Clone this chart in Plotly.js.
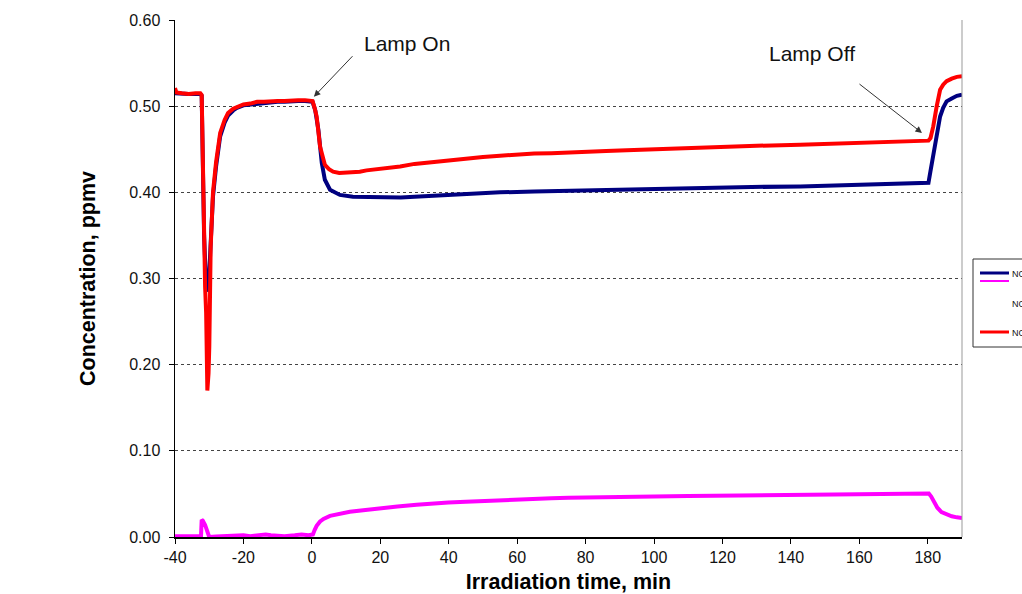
<!DOCTYPE html>
<html>
<head>
<meta charset="utf-8">
<script src="https://cdn.plot.ly/plotly-3.0.1.min.js"></script>
<style>html,body{margin:0;padding:0;background:#fff;}#chart{width:1022px;height:594px;}</style>
</head>
<body>
<div id="chart"></div>
<script>
// ---- data ----
var noxTime = [-40,-39.6,-38,-36,-34,-32.6,-32.2,-31.9,-31.6,-31.2,-30.9,-30.55,-30.2,-29.98,-29.57,-29.2,-28.9,-28,-26.8,-25.5,-24.5,-23,-21.9,-20,-18,-16,-14,-12,-10,-8,-6,-4,-2,-0.5,0.2,0.8,1.4,2.4,3.2,3.8,5,6.2,8,11,14,16,20,25.8,30,35,40.4,45,50,55,60,65,70,74.5,80,86,92,100,106,113.4,120,130,142.7,150,160,171.9,176,180.2,180.8,181.6,182.6,183.6,184.5,185.5,187,188.5,190];
var noxConc = [0.521,0.516,0.515,0.514,0.515,0.515,0.513,0.42,0.33,0.29,0.26,0.17,0.19,0.221,0.337,0.375,0.40,0.435,0.469,0.484,0.492,0.497,0.499,0.502,0.503,0.505,0.505,0.506,0.506,0.506,0.507,0.507,0.507,0.507,0.506,0.498,0.488,0.453,0.440,0.432,0.427,0.424,0.4225,0.423,0.424,0.4255,0.427,0.430,0.433,0.435,0.438,0.440,0.441,0.4425,0.444,0.445,0.4455,0.4464,0.447,0.448,0.4487,0.450,0.451,0.452,0.453,0.454,0.4553,0.456,0.457,0.4584,0.459,0.460,0.463,0.4765,0.4998,0.519,0.525,0.529,0.532,0.534,0.5346];

var noTime = [-40,-38,-36,-34,-32.6,-32.2,-31.9,-31.5,-31,-30.6,-30.2,-29.9,-29.57,-29.2,-28.9,-28,-26.8,-25.5,-24.5,-23,-21.9,-20,-18,-16,-14,-12,-10,-8,-6,-4,-2,-0.5,0.2,1,1.9,2.9,3.8,5.3,8.2,12,16,20,23,26,30,35,38,45,55,65,75,85,92,100,113.4,125,142.7,155,165,171.9,177,180.2,180.8,181.6,182.6,183.6,184.5,185.5,187,188.5,190];
var noConc = [0.515,0.514,0.514,0.514,0.514,0.512,0.43,0.35,0.30,0.285,0.29,0.31,0.337,0.37,0.395,0.43,0.465,0.481,0.489,0.495,0.498,0.501,0.502,0.503,0.504,0.505,0.505,0.505,0.506,0.506,0.506,0.506,0.505,0.495,0.4727,0.434,0.4146,0.403,0.397,0.395,0.3945,0.394,0.3934,0.394,0.395,0.396,0.397,0.398,0.400,0.401,0.402,0.403,0.4038,0.404,0.405,0.406,0.4069,0.408,0.409,0.410,0.4105,0.411,0.425,0.445,0.470,0.488,0.498,0.5056,0.509,0.512,0.5134];

var no2Time = [-40,-36,-34,-32.4,-32.2,-31.9,-31.2,-30.6,-30.3,-30,-28,-25,-22,-20,-18,-15,-13.5,-12,-8,-5,-3,-1,0.3,0.8,1.4,2.4,3.4,5.3,8,11.1,15,19.9,25,30.6,35,39.9,45,50,55,60,65,70,75,80,90,100,110,120,130,140,150,160,170,175,180.3,181,181.8,182.8,184,185.5,187,188.5,190];
var no2Conc = [0.001,0.001,0.001,0.001,0.020,0.019,0.014,0.008,0.004,0.000,0.0005,0.001,0.0015,0.002,0.001,0.002,0.003,0.002,0.001,0.002,0.003,0.002,0.003,0.008,0.013,0.018,0.021,0.0245,0.027,0.0294,0.031,0.0335,0.0355,0.0375,0.039,0.040,0.041,0.042,0.043,0.044,0.0445,0.045,0.0455,0.046,0.0465,0.047,0.0475,0.048,0.0488,0.0495,0.0498,0.050,0.0503,0.0505,0.0505,0.047,0.040,0.034,0.029,0.026,0.024,0.0228,0.022];

var seriesNames = ["NO", "NO2", "NOx"];
var xTicks = [-40,-20,0,20,40,60,80,100,120,140,160,180];
var yTicks = [0,0.1,0.2,0.3,0.4,0.5,0.6];

// ---- layout helpers (pixel -> paper) ----
var L = 175, R = 962, T = 20, B = 537;
function px(x){ return (x - L) / (R - L); }
function py(y){ return (B - y) / (B - T); }

var traces = [
  {x: noTime, y: noConc, name: seriesNames[0], mode: 'lines', line: {color: '#000080', width: 4}},
  {x: no2Time, y: no2Conc, name: seriesNames[1], mode: 'lines', line: {color: '#FF00FF', width: 4}},
  {x: noxTime, y: noxConc, name: seriesNames[2], mode: 'lines', line: {color: '#FF0000', width: 4}}
];

var font = 'Liberation Sans, Arial, sans-serif';

var layout = {
  width: 1022, height: 594,
  margin: {l: L, r: 1022 - R, t: T, b: 594 - B, pad: 0},
  paper_bgcolor: '#ffffff', plot_bgcolor: '#ffffff',
  showlegend: false,
  font: {family: font, color: '#111', size: 16},
  xaxis: {
    range: [-40, 190], tickvals: xTicks, ticktext: xTicks.map(String),
    showgrid: false, zeroline: false, showline: true, linecolor: '#000', linewidth: 1.5,
    ticks: 'outside', ticklen: 5, tickcolor: '#000', tickfont: {size: 16, family: font},
    title: {text: '<b>Irradiation time, min</b>', font: {size: 21.5, family: font, color: '#000'}, standoff: 9}
  },
  yaxis: {
    range: [0, 0.6], tickvals: yTicks, tickformat: '.2f',
    showgrid: true, gridcolor: '#444', gridwidth: 1, griddash: 'dot',
    zeroline: false, showline: true, linecolor: '#000', linewidth: 1.5,
    ticks: 'outside', ticklen: 5, tickcolor: '#000', tickfont: {size: 16, family: font},
    ticklabelstandoff: 5,
    title: {text: '<b>Concentration, ppmv</b>', font: {size: 21.5, family: font, color: '#000'}, standoff: 27}
  },
  shapes: [
    {type: 'line', xref: 'paper', yref: 'paper', x0: 1, x1: 1, y0: 0, y1: 1, line: {color: '#999', width: 1}},
    {type: 'rect', xref: 'paper', yref: 'paper', x0: px(973), x1: px(1040), y0: py(347), y1: py(259), line: {color: '#333', width: 1}, fillcolor: '#fff', layer: 'above'},
    {type: 'line', xref: 'paper', yref: 'paper', x0: px(980), x1: px(1009), y0: py(273), y1: py(273), line: {color: '#000080', width: 3}},
    {type: 'line', xref: 'paper', yref: 'paper', x0: px(980), x1: px(1009), y0: py(281), y1: py(281), line: {color: '#FF00FF', width: 2}},
    {type: 'line', xref: 'paper', yref: 'paper', x0: px(980), x1: px(1009), y0: py(332), y1: py(332), line: {color: '#FF0000', width: 3}}
  ],
  annotations: [
    {x: 27.8, y: 0.5726, xref: 'x', yref: 'y', text: 'Lamp On', showarrow: false, font: {size: 21, family: font, color: '#111'}},
    {x: 146.2, y: 0.561, xref: 'x', yref: 'y', text: 'Lamp Off', showarrow: false, font: {size: 21, family: font, color: '#111'}},
    {x: 0.6, y: 0.511, xref: 'x', yref: 'y', text: '', showarrow: true, ax: 40, ay: -42, arrowhead: 2, arrowsize: 1.3, arrowwidth: 1, arrowcolor: '#333'},
    {x: 178.3, y: 0.469, xref: 'x', yref: 'y', text: '', showarrow: true, ax: -64, ay: -50, arrowhead: 2, arrowsize: 1.3, arrowwidth: 1, arrowcolor: '#333'},
    {x: px(1010), y: py(274), xref: 'paper', yref: 'paper', xanchor: 'left', yanchor: 'middle', text: seriesNames[0], showarrow: false, font: {size: 9, family: font, color: '#111'}},
    {x: px(1010), y: py(304), xref: 'paper', yref: 'paper', xanchor: 'left', yanchor: 'middle', text: seriesNames[1], showarrow: false, font: {size: 9, family: font, color: '#111'}},
    {x: px(1010), y: py(333), xref: 'paper', yref: 'paper', xanchor: 'left', yanchor: 'middle', text: seriesNames[2], showarrow: false, font: {size: 9, family: font, color: '#111'}}
  ]
};

Plotly.newPlot('chart', traces, layout, {staticPlot: true, displayModeBar: false});
</script>
</body>
</html>
